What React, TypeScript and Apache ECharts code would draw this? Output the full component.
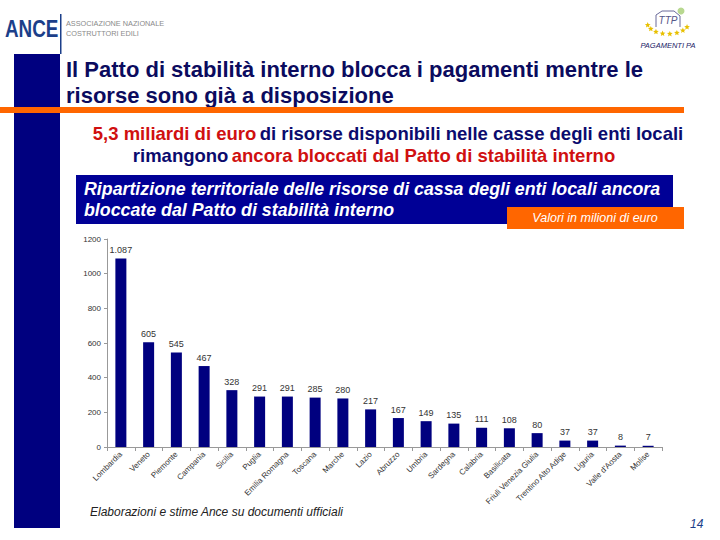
import React, { useEffect, useRef } from "react";
import * as echarts from "echarts";

const categories = [
  "Lombardia", "Veneto", "Piemonte", "Campania", "Sicilia", "Puglia",
  "Emilia Romagna", "Toscana", "Marche", "Lazio", "Abruzzo", "Umbria",
  "Sardegna", "Calabria", "Basilicata", "Friuli Venezia Giulia",
  "Trentino Alto Adige", "Liguria", "Valle d'Aosta", "Molise",
];
const values = [1087, 605, 545, 467, 328, 291, 291, 285, 280, 217, 167, 149, 135, 111, 108, 80, 37, 37, 8, 7];
const yTicks = [0, 200, 400, 600, 800, 1000, 1200];

const NAVY = "#00007f";
const ORANGE = "#ff6600";
const RED = "#d01010";

function starPoints(cx: number, cy: number, r: number): number[][] {
  const pts: number[][] = [];
  for (let i = 0; i < 10; i++) {
    const rr = i % 2 === 0 ? r : r * 0.45;
    const a = -Math.PI / 2 + (i * Math.PI) / 5;
    pts.push([cx + rr * Math.cos(a), cy + rr * Math.sin(a)]);
  }
  return pts;
}

export default function App() {
  const ref = useRef<HTMLDivElement>(null);
  useEffect(() => {
    if (!ref.current) return;
    const chart = echarts.init(ref.current, undefined, { renderer: "svg" });
    const font = "Liberation Sans, Arial, sans-serif";
    const stars: any[] = [];
    const starAngles = [195, 215, 235, 255, 275, 295, 315, 335];
    starAngles.forEach((a) => {
      const rad = (a * Math.PI) / 180;
      stars.push({
        type: "polygon",
        shape: { points: starPoints(668 + 21 * Math.cos(rad), 22 - 12 * Math.sin(rad), 3) },
        style: { fill: "#e8c000" },
      });
    });
    chart.setOption({
      animation: false,
      backgroundColor: "#ffffff",
      textStyle: { fontFamily: font },
      grid: { left: 107, right: 58, top: 239, bottom: 93 },
      xAxis: {
        type: "category",
        data: categories,
        axisLine: { lineStyle: { color: "#999999" } },
        axisTick: { show: true, alignWithLabel: false, length: 4, lineStyle: { color: "#999999" } },
        axisLabel: { rotate: 45, fontSize: 8, color: "#333333", interval: 0, margin: 6 },
      },
      yAxis: {
        type: "value",
        min: yTicks[0],
        max: yTicks[yTicks.length - 1],
        interval: 200,
        axisLine: { show: true, lineStyle: { color: "#999999" } },
        axisTick: { show: true, length: 3, lineStyle: { color: "#999999" } },
        splitLine: { show: false },
        axisLabel: { fontSize: 8, color: "#333333", margin: 6, formatter: (v: number) => String(v) },
      },
      series: [
        {
          type: "bar",
          data: values,
          barWidth: 11,
          itemStyle: { color: NAVY },
          label: {
            show: true,
            position: "top",
            fontSize: 9,
            color: "#333333",
            distance: 4,
            formatter: (p: any) => (p.value >= 1000 ? echarts.format.addCommas(p.value).replace(",", ".") : String(p.value)),
          },
        },
      ],
      graphic: [
        // ANCE logo
        { type: "text", x: 5, y: 17, scaleX: 0.82, style: { text: "ANCE", fontSize: 23, fontWeight: "bold", fill: "#1c3f8a", fontFamily: font } },
        { type: "rect", shape: { x: 60, y: 14, width: 1.5, height: 40 }, style: { fill: "#1c3f8a" } },
        { type: "text", left: 66, top: 18, style: { text: "ASSOCIAZIONE NAZIONALE\nCOSTRUTTORI EDILI", fontSize: 7.3, lineHeight: 10, fill: "#8a8a8a", fontFamily: font } },
        // Pagamenti PA logo
        ...stars,
        { type: "polyline", shape: { points: [[656, 27], [656, 15], [662, 11], [674, 11], [680, 16], [680, 27]] }, style: { fill: "none", stroke: "#6a6a9a", lineWidth: 1 } },
        { type: "text", x: 668, y: 20, style: { text: "TTP", fontSize: 10, fontStyle: "italic", fill: "#555588", align: "center", verticalAlign: "middle", fontFamily: font } },
        { type: "circle", shape: { cx: 681, cy: 11, r: 3.5 }, style: { fill: "#b8d890" } },
        { type: "text", x: 668, y: 45, style: { text: "PAGAMENTI PA", fontSize: 7.5, fontStyle: "italic", fill: "#222266", align: "center", verticalAlign: "middle", fontFamily: font } },
        // left navy bar
        { type: "rect", shape: { x: 14, y: 54, width: 46, height: 474 }, style: { fill: NAVY } },
        // title
        { type: "text", left: 66, top: 56, style: { text: "Il Patto di stabilità interno blocca i pagamenti mentre le\nrisorse sono già a disposizione", fontSize: 22, lineHeight: 26, fontWeight: "bold", fill: "#0b0b5e", fontFamily: font } },
        // orange rule
        { type: "rect", shape: { x: 0, y: 107, width: 684, height: 6 }, style: { fill: ORANGE } },
        // subtitle
        {
          type: "text", x: 388, y: 133,
          style: {
            text: "{r|5,3 miliardi di euro} {b|di risorse disponibili nelle casse degli enti locali}",
            align: "center", verticalAlign: "middle", fontFamily: font,
            rich: {
              r: { fontSize: 18.5, fontWeight: "bold", fill: RED, fontFamily: font },
              b: { fontSize: 18.5, fontWeight: "bold", fill: "#0b0b6e", fontFamily: font },
            },
          },
        },
        {
          type: "text", x: 374, y: 155,
          style: {
            text: "{b|rimangono} {r|ancora bloccati dal Patto di stabilità interno}",
            align: "center", verticalAlign: "middle", fontFamily: font,
            rich: {
              r: { fontSize: 18.5, fontWeight: "bold", fill: RED, fontFamily: font },
              b: { fontSize: 18.5, fontWeight: "bold", fill: "#0b0b6e", fontFamily: font },
            },
          },
        },
        // blue box
        { type: "rect", shape: { x: 76, y: 175, width: 597, height: 49 }, style: { fill: "#000096" } },
        { type: "text", left: 84, top: 178, style: { text: "Ripartizione territoriale delle risorse di cassa degli enti locali ancora\nbloccate dal Patto di stabilità interno", fontSize: 17.8, lineHeight: 21, fontWeight: "bold", fontStyle: "italic", fill: "#ffffff", fontFamily: font } },
        // orange label
        { type: "rect", shape: { x: 507, y: 207, width: 177, height: 22 }, style: { fill: ORANGE } },
        { type: "text", x: 595, y: 218, style: { text: "Valori in milioni di euro", fontSize: 12.5, fontStyle: "italic", fill: "#ffffff", align: "center", verticalAlign: "middle", fontFamily: font } },
        // footer
        { type: "text", left: 90, top: 506, style: { text: "Elaborazioni e stime Ance su documenti ufficiali", fontSize: 12, fontStyle: "italic", fill: "#222222", fontFamily: font } },
        { type: "text", left: 690, top: 518, style: { text: "14", fontSize: 12, fontStyle: "italic", fill: "#1c3f8a", fontFamily: font } },
      ],
    });
    return () => chart.dispose();
  }, []);
  return <div ref={ref} style={{ position: "fixed", left: 0, top: 0, width: 720, height: 540 }} />;
}
